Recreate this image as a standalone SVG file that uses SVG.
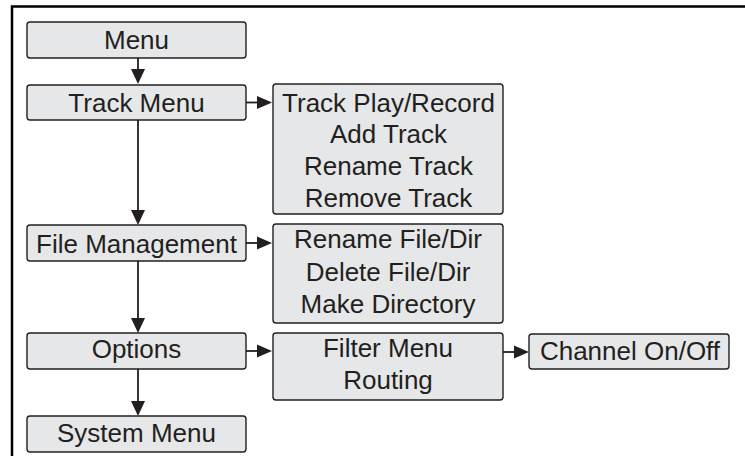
<svg xmlns="http://www.w3.org/2000/svg" width="745" height="456" viewBox="0 0 745 456">
<style>
.box{fill:#e6e7e8;stroke:#231f20;stroke-width:1.4}
.t{font-family:"Liberation Sans",Arial,sans-serif;font-size:26px;fill:#231f20;text-anchor:middle}
.c{stroke:#231f20;stroke-width:1.8;fill:none}
.h{fill:#231f20}
</style>
<rect width="745" height="456" fill="#fff"/>
<path d="M12 456 V6.5 H745" fill="none" stroke="#000" stroke-width="2.5"/>
<g id="connectors">
<line class="c" x1="138" y1="58" x2="138" y2="70"/><polygon class="h" points="131,69 145,69 138,84"/>
<line class="c" x1="138" y1="120" x2="138" y2="211"/><polygon class="h" points="131,210 145,210 138,225"/>
<line class="c" x1="138" y1="261" x2="138" y2="319"/><polygon class="h" points="131,318 145,318 138,333"/>
<line class="c" x1="138" y1="369" x2="138" y2="402"/><polygon class="h" points="131,401 145,401 138,416"/>
<line class="c" x1="246" y1="102.5" x2="258" y2="102.5"/><polygon class="h" points="257,96 257,109 272,102.5"/>
<line class="c" x1="246" y1="243" x2="258" y2="243"/><polygon class="h" points="257,236.5 257,249.5 272,243"/>
<line class="c" x1="246" y1="351" x2="258" y2="351"/><polygon class="h" points="257,344.5 257,357.5 272,351"/>
<line class="c" x1="503" y1="352" x2="515" y2="352"/><polygon class="h" points="514,345.5 514,358.5 529,352"/>
</g>
<g id="menu"><rect class="box" x="27" y="22" width="219" height="36" rx="3"/><text class="t" x="136.5" y="49">Menu</text></g>
<g id="track-menu"><rect class="box" x="27" y="85" width="219" height="35" rx="3"/><text class="t" x="136.5" y="112">Track Menu</text></g>
<g id="file-management"><rect class="box" x="27" y="225" width="219" height="36" rx="3"/><text class="t" x="136.5" y="253">File Management</text></g>
<g id="options"><rect class="box" x="27" y="333" width="219" height="36" rx="3"/><text class="t" x="136.5" y="358">Options</text></g>
<g id="system-menu"><rect class="box" x="27" y="416" width="219" height="36" rx="3"/><text class="t" x="136.5" y="442">System Menu</text></g>
<g id="track-sub"><rect class="box" x="273" y="84" width="230" height="130" rx="3"/>
<text class="t" x="388.5" y="112">Track Play/Record</text>
<text class="t" x="388.5" y="143">Add Track</text>
<text class="t" x="388.5" y="175">Rename Track</text>
<text class="t" x="388.5" y="207">Remove Track</text></g>
<g id="file-sub"><rect class="box" x="273" y="224" width="230" height="99" rx="3"/>
<text class="t" x="388" y="248">Rename File/Dir</text>
<text class="t" x="388" y="281">Delete File/Dir</text>
<text class="t" x="388" y="313">Make Directory</text></g>
<g id="options-sub"><rect class="box" x="273" y="333" width="230" height="67" rx="3"/>
<text class="t" x="388" y="357">Filter Menu</text>
<text class="t" x="388" y="389">Routing</text></g>
<g id="channel"><rect class="box" x="529" y="334" width="200" height="35" rx="3"/><text class="t" x="630" y="360">Channel On/Off</text></g>
</svg>
